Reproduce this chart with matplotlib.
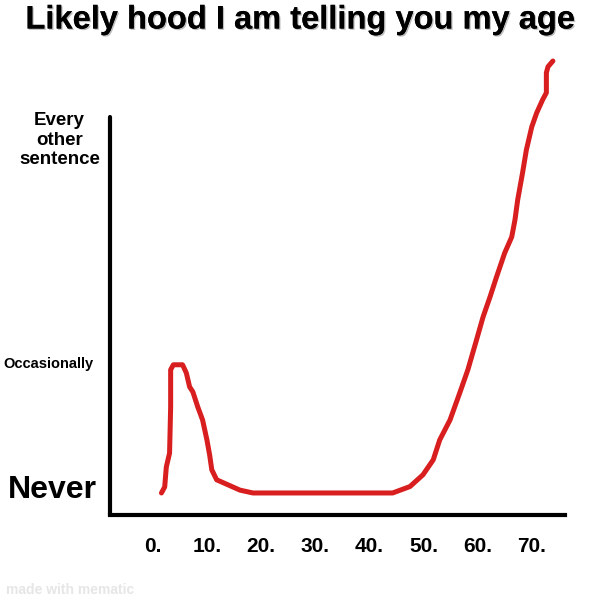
import matplotlib
matplotlib.use("Agg")
import matplotlib.pyplot as plt
import matplotlib.patheffects as pe

plt.rcParams['font.family'] = ['Liberation Sans', 'DejaVu Sans']
plt.rcParams['font.weight'] = 'bold'

# hand-drawn curve
age = [1.6, 2.2, 2.5, 3.1, 3.3, 3.3, 3.8, 5.5, 6.2, 6.8, 7.4, 8.3, 9.2, 10.0,
       10.5, 10.9, 11.8, 16.1, 18.5, 44.3, 47.5, 49.9, 51.8, 53.0, 54.9, 56.7,
       58.2, 59.8, 61.0, 62.3, 63.5, 65.0, 66.3, 66.9, 67.4, 68.3, 69.0, 70.0,
       70.9, 72.0, 72.7, 72.7, 73.0, 73.9]
likelihood = [0, 1.7, 7.3, 11.2, 24.2, 34.6, 36.0, 36.0, 33.7, 29.8, 28.4, 24.2,
              20.5, 14.9, 10.7, 6.5, 3.7, 0.8, 0, 0, 1.8, 5.1, 9.3, 14.9, 20.5,
              28.1, 34.6, 43.0, 49.4, 55.1, 60.7, 67.4, 71.9, 76.7, 82.3, 89.9,
              96.3, 102.8, 106.7, 110.4, 112.4, 118.0, 119.7, 121.3]

x_ticks = [0, 10, 20, 30, 40, 50, 60, 70]
x_labels = ['0.', '10.', '20.', '30.', '40.', '50.', '60.', '70.']
y_ticks = [1.7, 36.5, 100]
y_labels = ['Never', 'Occasionally', 'Every\nother\nsentence']
y_sizes = [23, 10.5, 13.5]
y_pads = [9, 12, 7]

shadow = [pe.withSimplePatchShadow(offset=(1, -1), alpha=0.25), pe.Normal()]

fig = plt.figure(figsize=(6, 6), dpi=100)
ax = fig.add_axes([0.183, 0.1417, 0.7583, 0.7667])

ax.plot(age, likelihood, color='#d81e1e', lw=3.6, solid_capstyle='round',
        solid_joinstyle='round', clip_on=False)

ax.set_xlim(-7.94, 76.1)
ax.set_ylim(-6.18, 123.0)

for side in ['top', 'right']:
    ax.spines[side].set_visible(False)
ax.spines['left'].set_linewidth(3)
ax.spines['bottom'].set_linewidth(3)
ax.spines['left'].set_bounds(-6.18, 105.6)
ax.spines['left'].set_capstyle('round')

ax.set_xticks(x_ticks)
ax.set_xticklabels(x_labels, fontsize=15, fontweight='bold')
ax.tick_params(axis='x', length=0, pad=16)

ax.set_yticks(y_ticks)
ax.set_yticklabels(y_labels, fontweight='bold')
ax.tick_params(axis='y', length=0, pad=0)
for tick, size, pad in zip(ax.yaxis.get_major_ticks(), y_sizes, y_pads):
    tick.set_pad(pad)
    tick.label1.set_fontsize(size)
    tick.label1.set_multialignment('center')
    tick.label1.set_linespacing(1.2)

fig.text(0.5, 1 - 20 / 600, 'Likely hood I am telling you my age',
         ha='center', va='center', fontsize=23.5, fontweight='bold',
         path_effects=shadow)
fig.text(0.01, 1 - 590 / 600, 'made with mematic', ha='left', va='center',
         fontsize=10, color='#e6e6e6', fontweight='bold')

fig.savefig('out.png', dpi=100, facecolor='white')
